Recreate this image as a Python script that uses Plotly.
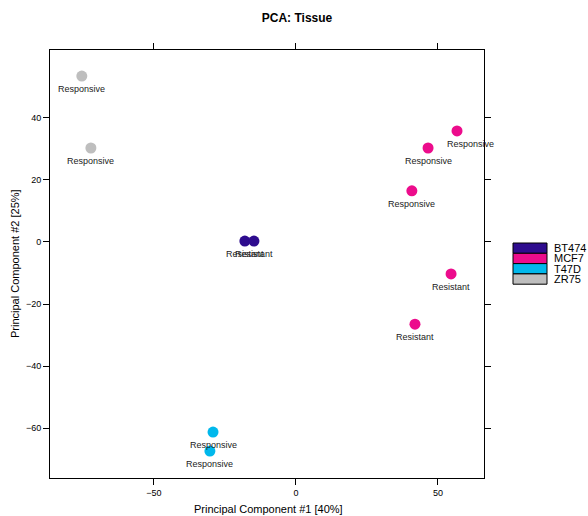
import plotly.graph_objects as go

tissue = ["ZR75", "ZR75", "BT474", "BT474", "MCF7", "MCF7", "MCF7", "MCF7", "MCF7", "T47D", "T47D"]
pc1 = [-75.4, -72.2, -18.0, -14.8, 56.7, 46.5, 40.8, 54.6, 41.9, -29.2, -30.3]
pc2 = [53.5, 30.3, 0.3, 0.3, 35.8, 30.3, 16.5, -10.3, -26.5, -61.3, -67.4]
response = ["Responsive", "Responsive", "Resistant", "Resistant", "Responsive", "Responsive",
            "Responsive", "Resistant", "Resistant", "Responsive", "Responsive"]
categories = ["BT474", "MCF7", "T47D", "ZR75"]
colors = {"BT474": "#2E0C8E", "MCF7": "#EC0C8C", "T47D": "#00B8EC", "ZR75": "#BEBEBE"}
xticks = [-50, 0, 50]
yticks = [40, 20, 0, -20, -40, -60]
label_xshift = [0, 0, 0, 0, 13, 0, 0, 0, 0, 0, 0]

FONT = "Liberation Sans, Arial, sans-serif"
xr = [-86.6, 66.2]
yr = [-76.1, 61.9]

W, H = 588, 516
L, R, T, B = 50, 484, 50, 478  # plot box in pixels
def px(xp):
    return (xp - L) / (R - L)
def py(yp):
    return (B - yp) / (B - T)

fig = go.Figure()
for cat in categories:
    idx = [i for i, t in enumerate(tissue) if t == cat]
    fig.add_trace(go.Scatter(
        x=[pc1[i] for i in idx], y=[pc2[i] for i in idx], mode="markers",
        marker=dict(size=11, color=colors[cat], line=dict(width=0)),
        showlegend=False, hoverinfo="skip"))

# invisible trace for mirrored top/right axes
fig.add_trace(go.Scatter(x=[xr[0]], y=[yr[0]], xaxis="x2", yaxis="y2", mode="markers",
                         marker=dict(opacity=0), showlegend=False, hoverinfo="skip"))

for i in range(len(pc1)):
    fig.add_annotation(x=pc1[i], y=pc2[i], text=response[i], showarrow=False,
                       yshift=-13, xshift=label_xshift[i],
                       font=dict(family=FONT, size=9, color="#222222"))

# manual legend
lx0, lx1 = 513, 547
ly0 = 243
rowh = 10.3
for k, cat in enumerate(categories):
    y_top = ly0 + k * rowh
    fig.add_shape(type="rect", xref="paper", yref="paper",
                  x0=px(lx0), x1=px(lx1), y0=py(y_top + rowh), y1=py(y_top),
                  fillcolor=colors[cat], line=dict(color="black", width=1))
    fig.add_annotation(xref="paper", yref="paper", x=px(552), y=py(y_top + rowh / 2),
                       text=cat, showarrow=False, xanchor="left", yanchor="middle",
                       font=dict(family=FONT, size=11, color="black"))

# axis titles
fig.add_annotation(xref="paper", yref="paper", x=px(268), y=py(509), text="Principal Component #1 [40%]",
                   showarrow=False, xanchor="center", yanchor="middle",
                   font=dict(family=FONT, size=11, color="black"))
fig.add_annotation(xref="paper", yref="paper", x=px(15), y=py(264), text="Principal Component #2 [25%]",
                   showarrow=False, xanchor="center", yanchor="middle", textangle=-90,
                   font=dict(family=FONT, size=11, color="black"))

axis_common = dict(showgrid=False, zeroline=False, ticks="outside", ticklen=6,
                   tickcolor="black", linecolor="black", showline=True, mirror=False,
                   automargin=False,
                   tickfont=dict(family=FONT, size=9, color="black"))

fig.update_layout(
    width=W, height=H,
    margin=dict(l=L, r=W - R, t=T, b=H - B, autoexpand=False),
    paper_bgcolor="white", plot_bgcolor="white",
    title=dict(text="<b>PCA: Tissue</b>", x=297 / W, xanchor="center", y=1 - 18 / H,
               yanchor="middle", font=dict(family=FONT, size=12, color="black")),
    xaxis=dict(range=xr, tickvals=xticks, ticktext=[str(v).replace("-", "\u2212") for v in xticks],
               **axis_common),
    yaxis=dict(range=yr, tickvals=yticks, ticktext=[str(v).replace("-", "\u2212") for v in yticks],
               **axis_common),
    xaxis2=dict(range=xr, tickvals=xticks, overlaying="x", side="top", showticklabels=False,
                **axis_common),
    yaxis2=dict(range=yr, tickvals=yticks, overlaying="y", side="right", showticklabels=False,
                **axis_common),
)

fig.write_html("out.html", config={"displayModeBar": False},
               post_script="document.body.style.margin='0';document.body.style.overflow='hidden';")
